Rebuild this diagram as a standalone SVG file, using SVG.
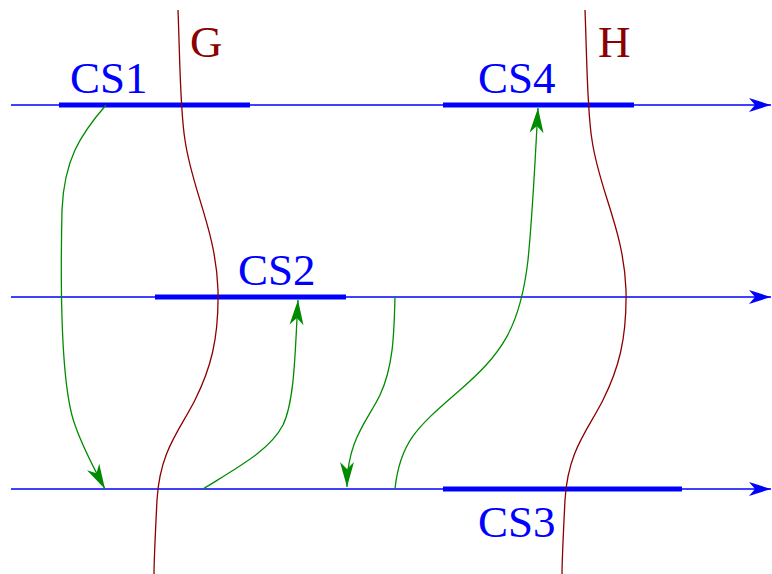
<svg xmlns="http://www.w3.org/2000/svg" width="772" height="574" viewBox="0 0 772 574">
<style>
.axis{stroke:#0000ff;stroke-width:1.3;fill:none}
.bar{stroke:#0000ff;stroke-width:5;fill:none}
.wave{stroke:#8b0000;stroke-width:1.3;fill:none}
.flow{stroke:#008c00;stroke-width:1.3;fill:none}
.lbl{font-family:"Liberation Serif","Times New Roman",serif;font-size:45px}
.blue{fill:#0000ff}
.red{fill:#8b0000}
</style>
<defs>
<marker id="ab" markerUnits="userSpaceOnUse" markerWidth="30" markerHeight="20" viewBox="-24 -10 30 20" refX="0" refY="0" orient="auto">
<path d="M0,0 L-22,-7 L-16,0 L-22,7 Z" fill="#0000ff"/>
</marker>
<marker id="ag" markerUnits="userSpaceOnUse" markerWidth="30" markerHeight="20" viewBox="-26 -10 30 20" refX="0" refY="0" orient="auto">
<path d="M0,0 L-25,-7 L-18,0 L-25,7 Z" fill="#008c00"/>
</marker>
</defs>
<g id="time-axes">
<path class="axis" d="M11,105 H771" marker-end="url(#ab)"/>
<path class="axis" d="M11,297 H771" marker-end="url(#ab)"/>
<path class="axis" d="M11,489 H771" marker-end="url(#ab)"/>
</g>
<g id="CS1">
<path class="bar" d="M59,105 H250"/>
<text class="lbl blue" x="70" y="93">CS1</text>
</g>
<g id="CS4">
<path class="bar" d="M443,105 H634"/>
<text class="lbl blue" x="478" y="93">CS4</text>
</g>
<g id="CS2">
<path class="bar" d="M155,297 H346"/>
<text class="lbl blue" x="238" y="285">CS2</text>
</g>
<g id="CS3">
<path class="bar" d="M443,489 H682"/>
<text class="lbl blue" x="478" y="537">CS3</text>
</g>
<g id="G">
<path class="wave" d="M178,10 C180,60 180,110 185,140 C192,190 216,230 218,290 C219,340 210,370 195,400 C180,430 160,450 157,500 C155,540 154,560 154,574"/>
<text class="lbl red" x="190" y="57">G</text>
</g>
<g id="H">
<path class="wave" d="M585,10 C587,60 587,110 592,140 C599,190 624,230 626,290 C627,340 618,370 603,400 C588,430 568,450 565,500 C563,540 562,560 562,574"/>
<text class="lbl red" x="598" y="57">H</text>
</g>
<g id="connectors">
<path class="flow" d="M106,105 C80,135 64,160 62,210 C60,300 62,390 75,425 C82,445 92,465 105,489" marker-end="url(#ag)"/>
<path class="flow" d="M203,489 C240,466 270,450 283,425 C295,400 295,350 298,300" marker-end="url(#ag)"/>
<path class="flow" d="M395,297 C394,330 394,365 380,395 C368,420 347,440 347,487" marker-end="url(#ag)"/>
<path class="flow" d="M395,489 C400,440 420,425 460,390 C500,355 520,330 528,260 C533,210 535,160 538,108" marker-end="url(#ag)"/>
</g>
</svg>
